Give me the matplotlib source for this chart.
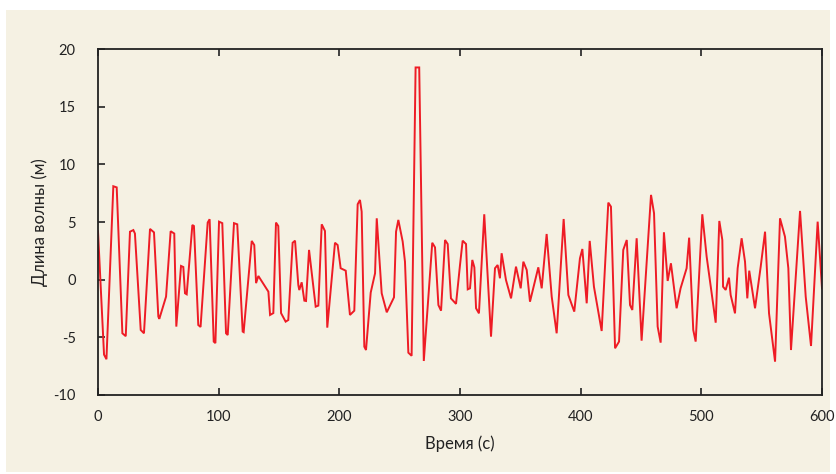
import matplotlib
matplotlib.use("Agg")
import matplotlib.pyplot as plt
from matplotlib.patches import Rectangle

plt.rcParams['font.family'] = ['Lato', 'Open Sans', 'DejaVu Sans']
plt.rcParams['axes.unicode_minus'] = False

BG = "#f5f1e3"
RED = "#ee1c25"

# vertices (time s, wave height m)
t = [0, 5, 7, 12.7, 15.5, 20.2, 23, 26.5, 29.3, 30.6, 35.4, 38.1, 43.1, 46.4, 50, 50.8,
     56.4, 60.2, 63.2, 64.9, 68.8, 70.7, 72.1, 73.5, 78.2, 79.5, 83.1, 85, 90.9, 92.5,
     95.9, 97.3, 100.3, 103, 106.1, 107.5, 112.7, 115.4, 119.9, 120.7, 127.4, 129.5,
     131, 132.9, 141.2, 142.6, 145.3, 147.5, 149.4, 151.7, 155.5, 157.7, 161.3, 163.3,
     166, 166.8, 168.8, 171, 172.4, 174.9, 180.4, 182.6, 185.4, 188.1, 190, 196.4, 198.6,
     201.1, 205.3, 208.8, 212.4, 215.2, 217.1, 218.5, 220.7, 222.1, 226, 229.6, 231,
     235.1, 239.3, 245.3, 247, 248.9, 252.5, 254.4, 257.2, 259.9, 263.2, 266.2, 270,
     277, 279.3, 282.1, 284.3, 287.6, 289.8, 292.5, 296.7, 300, 302.2, 305, 306.4, 308.3,
     310.2, 311.9, 313.3, 315.7, 320.1, 325.7, 329, 331.2, 333.1, 334.5, 338.1, 342.3,
     346.4, 350.3, 352.5, 355.3, 358, 364.9, 367.7, 371.8, 376, 380.1, 385.9, 389.8,
     394.7, 399.4, 401.4, 405, 407.5, 411, 417.4, 422.9, 425.1, 428.5, 431.8, 435.3,
     438.2, 440.9, 442.8, 446.4, 450.5, 458.3, 460.8, 463.8, 466.3, 469, 472.1, 474.8,
     479.5, 482.8, 487.8, 489.9, 493.3, 495.3, 500.8, 504.4, 511.9, 514.9, 517.4, 518,
     520.2, 522.9, 524.3, 527.9, 530.1, 533.4, 536.2, 538.1, 539.7, 544.5, 549.2, 552.8,
     556.1, 561.1, 565.2, 569.3, 572.1, 574.3, 581.8, 586.5, 590.9, 596.4, 600]
h = [4.2, -6.5, -6.9, 8.1, 8.0, -4.65, -4.9, 4.16, 4.3, 4.0, -4.36, -4.65, 4.4, 4.1, -3.2, -3.4,
     -1.47, 4.2, 4.0, -4.07, 1.19, 1.1, -1.18, -1.27, 4.74, 4.65, -3.93, -4.1, 4.95, 5.24,
     -5.37, -5.5, 5.03, 4.9, -4.65, -4.8, 4.9, 4.8, -4.5, -4.55, 3.36, 3.0,
     -0.3, 0.32, -1.04, -3.06, -2.9, 4.95, 4.65, -2.9, -3.64, -3.5, 3.2, 3.38,
     -0.46, -0.9, -0.23, -1.82, -1.85, 2.58, -2.34, -2.25, 4.8, 4.22, -4.16, 3.2, 3.0,
     0.99, 0.78, -3.06, -2.69, 6.54, 6.91, 5.9, -5.81, -6.1, -1.12, 0.55, 5.32,
     -1.18, -2.83, -1.53, 4.16, 5.18, 3.3, 1.56, -6.33, -6.6, 18.4, 18.4, -7.05,
     3.2, 2.8, -2.2, -2.69, 3.44, 3.09, -1.62, -2.1, 1.27, 3.38, 3.09, -0.84, -0.75,
     1.71, 1.07, -2.48, -2.92, 5.67, -4.94, 0.99, 1.27, 0.12, 2.29, -0.03, -1.62,
     1.13, -0.75, 1.56, 0.84, -1.91, 1.07, -0.75, 3.96, -1.47, -4.65, 5.26, -1.33,
     -2.77, 1.85, 2.66, -2.05, 3.36, -0.61, -4.45, 6.68, 6.33, -5.95, -5.37, 2.58,
     3.44, -2.2, -2.63, 3.59, -5.29, 7.35, 5.76, -4.07, -5.46, 4.11, -0.11, 1.42,
     -2.48, -0.75, 0.99, 3.64, -4.36, -5.37, 5.67, 2.0, -3.73, 5.09, 3.44, -0.61,
     -0.89, 0.17, -1.33, -2.92, 0.99, 3.59, 1.56, -1.62, 0.78, -2.48, 1.13, 4.16,
     -2.92, -7.11, 5.32, 3.73, 0.99, -6.1, 5.96, -1.47, -5.75, 5.03, -0.75]

xticks = [0, 100, 200, 300, 400, 500, 600]
yticks = [-10, -5, 0, 5, 10, 15, 20]

fig = plt.figure(figsize=(8.36, 4.74), dpi=100, facecolor="white")
fig.patches.append(Rectangle((6/836, 2/474), 824/836, 462/474, transform=fig.transFigure,
                             facecolor=BG, edgecolor="none", zorder=-1))
ax = fig.add_axes([98/836, 79/474, 724/836, 346/474])
ax.set_facecolor(BG)

ax.plot(t, h, color=RED, lw=1.4, solid_joinstyle="miter")

ax.set_xlim(0, 600); ax.set_ylim(-10, 20)
ax.set_xticks(xticks); ax.set_yticks(yticks)
ax.tick_params(axis="x", direction="in", top=True, length=5, width=1.2, pad=11,
               labelsize=10.5, colors="#222")
ax.tick_params(axis="y", direction="in", right=False, length=5, width=1.2, pad=16,
               labelsize=10.5, colors="#222")
for s in ax.spines.values():
    s.set_linewidth(1.3); s.set_color("#222")

ax.set_xlabel("Время (с)", fontsize=12, color="#222", labelpad=8)
ax.set_ylabel("Длина волны (м)", fontsize=12, color="#222", labelpad=4)

plt.savefig("out.png", dpi=100, facecolor="white")
